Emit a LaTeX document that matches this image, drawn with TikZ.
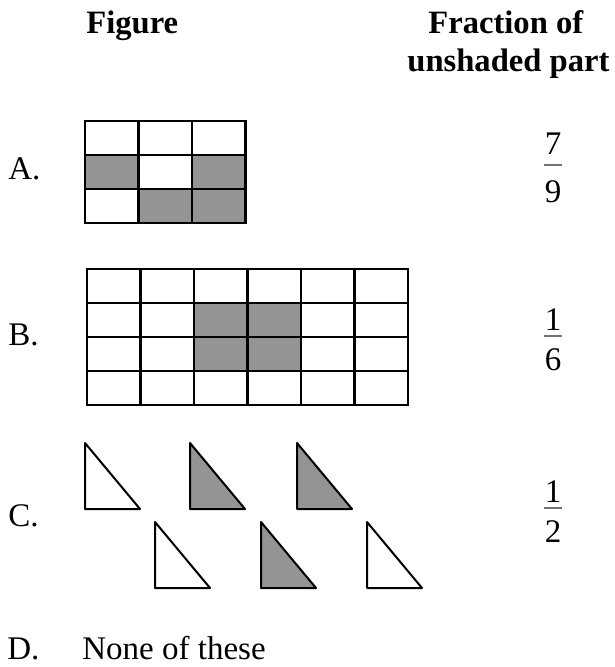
\documentclass[tikz,border=0pt]{standalone}
\usepackage{fontspec}
\setmainfont{Liberation Serif}
\usepackage{tikz}

\begin{document}
\begin{tikzpicture}[x=.5pt,y=-.5pt,
  txt/.style={anchor=base west,inner sep=0pt,font=\fontsize{16.5}{20}\selectfont},
  head/.style={anchor=base west,inner sep=0pt,font=\fontsize{16.3}{20}\selectfont\bfseries},
  dig/.style={inner sep=0pt,font=\fontsize{16.5}{20}\selectfont},
  cell/.style={line width=1.3pt},
  shade/.style={fill=black!42},
  bar/.style={black!55,line width=.6pt},
  tri/.style={line width=1pt,line join=round}]
 \useasboundingbox (0,0) rectangle (614,667);
 \def\cw{53.5}\def\ch{34}
 % headings
 \node[head] (hfig) at (86,34) {Figure};
 \node[head] (hfrac) at (428,34) {Fraction of};
 \node[head] (hunsh) at (407,72) {unshaded part};
 % A
 \node[txt] (la) at (8,180) {A.};
 \foreach \c/\r in {0/1,2/1,1/2,2/2}
   \fill[shade] ({85+\c*\cw},{121+\r*\ch}) rectangle ++(\cw,\ch);
 \foreach \r in {0,1,2} \foreach \c in {0,1,2}
   \draw[cell] ({85+\c*\cw},{121+\r*\ch}) rectangle ++(\cw,\ch);
 \node[dig] (na) at (553,144) {7};
 \draw[bar] (544,165) -- (562,165);
 \node[dig] (da) at (553,192) {9};
 % B
 \node[txt] (lb) at (8,345) {B.};
 \foreach \c/\r in {2/1,3/1,2/2,3/2}
   \fill[shade] ({87+\c*\cw},{269+\r*\ch}) rectangle ++(\cw,\ch);
 \foreach \r in {0,...,3} \foreach \c in {0,...,5}
   \draw[cell] ({87+\c*\cw},{269+\r*\ch}) rectangle ++(\cw,\ch);
 \node[dig] (nb) at (553,320) {1};
 \draw[bar] (544,336) -- (562,336);
 \node[dig] (db) at (553,360) {6};
 % C
 \node[txt] (lc) at (8,526) {C.};
 \foreach \x/\y/\f in {85/443/white,190/443/black!42,297/443/black!42,
                       155/522/white,261/522/black!42,367/522/white}
   \filldraw[tri,fill=\f] (\x,\y) -- ++(0,66) -- ++(55,0) -- cycle;
 \node[dig] (nc) at (553,492) {1};
 \draw[bar] (544,508) -- (562,508);
 \node[dig] (dc) at (553,532) {2};
 % D
 \node[txt] (ld) at (7,659) {D.};
 \node[txt] (none) at (82,659) {None of these};
\end{tikzpicture}
\end{document}
